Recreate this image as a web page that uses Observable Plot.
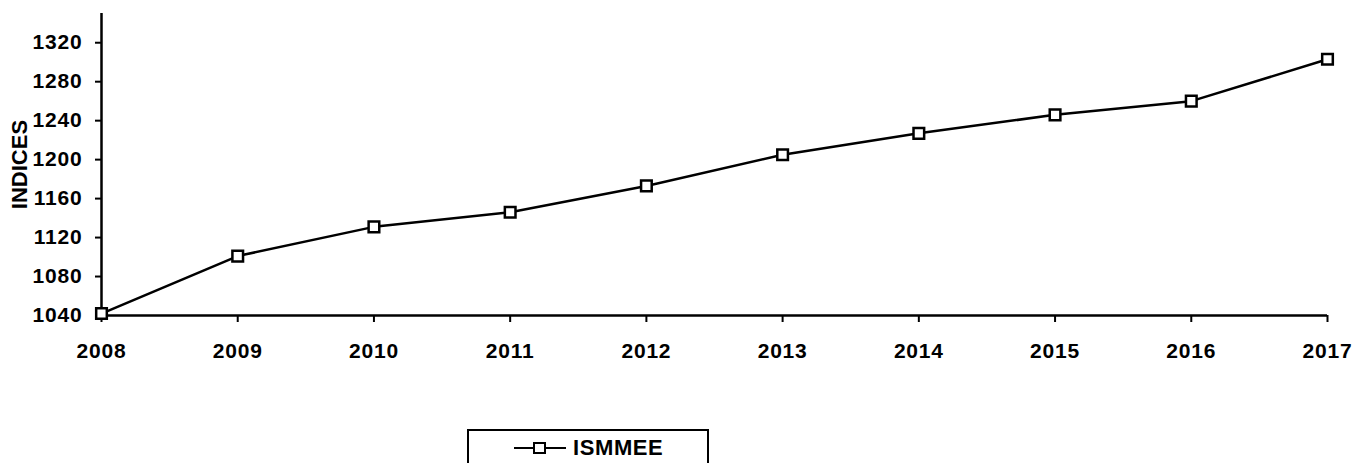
<!DOCTYPE html>
<html><head><meta charset="utf-8">
<script src="https://cdn.jsdelivr.net/npm/d3@7"></script>
<script src="https://cdn.jsdelivr.net/npm/@observablehq/plot@0.6"></script>
<style>
body{margin:0;background:#fff;font-family:"Liberation Sans",Arial,sans-serif;}
#wrap{position:relative;width:1371px;height:463px;overflow:hidden;}
#legend{position:absolute;left:467px;top:429px;width:242px;height:40px;border:2px solid #000;box-sizing:border-box;background:#fff;}
#legend svg{position:absolute;left:44px;top:5px;}
#legend span{position:absolute;left:104px;top:4px;font-weight:bold;font-size:22px;letter-spacing:0.6px;line-height:26px;}
#chart svg g[aria-label$="tick label"] text{letter-spacing:0.8px;}
</style></head>
<body><div id="wrap"><div id="chart"></div>
<div id="legend"><svg width="54" height="24"><line x1="1" y1="12" x2="53" y2="12" stroke="#000" stroke-width="2"/><rect x="21" y="7" width="11" height="10" fill="#fff" stroke="#000" stroke-width="2"/></svg><span>ISMMEE</span></div>
</div>
<script>
const years = [2008, 2009, 2010, 2011, 2012, 2013, 2014, 2015, 2016, 2017];
const ismmee = [1042, 1101, 1131, 1146, 1173, 1205, 1227, 1246, 1260, 1303];
const yTicks = [1040, 1080, 1120, 1160, 1200, 1240, 1280, 1320];
const seriesName = "ISMMEE";
const yLabel = "INDICES";

const data = years.map((y, i) => ({year: y, value: ismmee[i], series: seriesName}));

const chart = Plot.plot({
  width: 1371,
  height: 380,
  marginLeft: 101,
  marginRight: 44,
  marginTop: 13,
  marginBottom: 65,
  style: {fontFamily: "'Liberation Sans', Arial, sans-serif", fontWeight: "bold", fontSize: "21px", color: "#000", background: "#fff"},
  x: {domain: [2008, 2017], label: null},
  y: {domain: [1040, 1350], label: null},
  marks: [
    Plot.axisX({ticks: years, tickFormat: d => String(d), tickSize: 7, tickPadding: 21, strokeWidth: 2, fontWeight: "bold", fontSize: 21, label: null}),
    Plot.axisY({ticks: yTicks, tickFormat: d => String(d), tickSize: 6, tickPadding: 13, strokeWidth: 2, fontWeight: "bold", fontSize: 21, label: null}),
    Plot.ruleX([2008], {stroke: "#000", strokeWidth: 2.5}),
    Plot.ruleY([1040], {stroke: "#000", strokeWidth: 2.5}),
    Plot.line(data, {x: "year", y: "value", stroke: "#000", strokeWidth: 2.5}),
    Plot.dot(data, {x: "year", y: "value", symbol: "square", r: 6, fill: "#fff", stroke: "#000", strokeWidth: 2.5}),
    Plot.text([yLabel], {frameAnchor: "left", textAnchor: "middle", lineAnchor: "middle", dx: -82, rotate: -90, text: d => d, fontSize: 22, fontWeight: "bold"})
  ]
});
document.getElementById("chart").appendChild(chart);
</script></body></html>
